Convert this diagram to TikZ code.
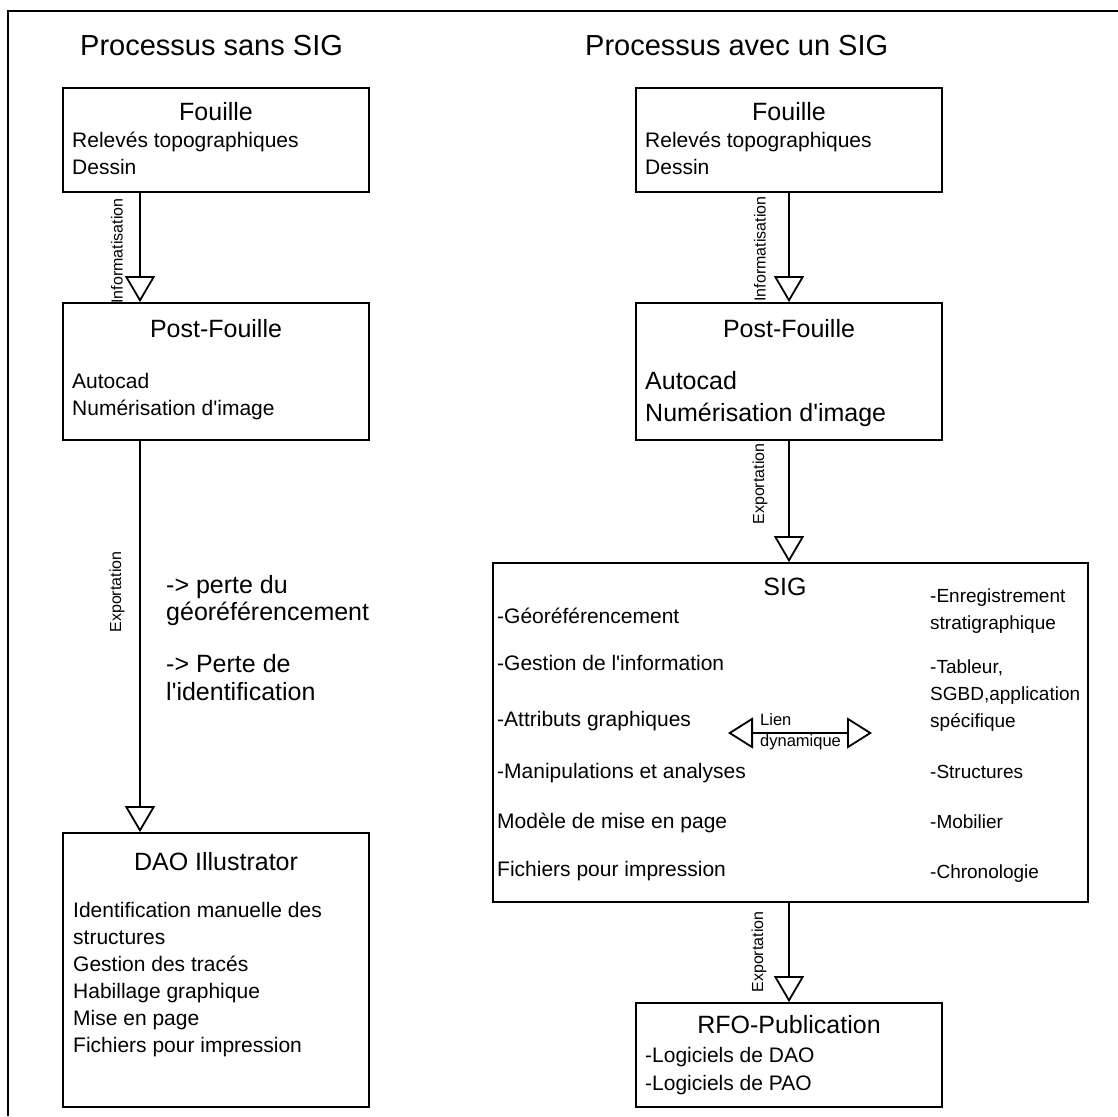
\documentclass[tikz,border=0pt]{standalone}
\usepackage{fontspec}
\setmainfont{Liberation Sans}
\usetikzlibrary{arrows.meta}
\begin{document}
\begin{tikzpicture}[x=1pt,y=-1pt,
  box/.style={draw, line width=1.8pt, rectangle, inner sep=0pt},
  ttl/.style={font=\fontsize{29}{34}\selectfont, anchor=base west, inner sep=0pt},
  head/.style={font=\fontsize{25}{30}\selectfont, anchor=base, inner sep=0pt},
  txt/.style={font=\fontsize{21}{27}\selectfont, anchor=base west, inner sep=0pt},
  rtxt/.style={font=\fontsize{19}{27}\selectfont, anchor=base west, inner sep=0pt},
  big/.style={font=\fontsize{25}{30}\selectfont, anchor=base west, inner sep=0pt},
  lbl/.style={font=\fontsize{16}{18}\selectfont, rotate=90, inner sep=0pt},
  small/.style={font=\fontsize{16.5}{18}\selectfont, anchor=base west, inner sep=0pt},
  arr/.style={line width=1.8pt, -{Triangle[open, width=30pt, length=26pt, line width=1.8pt]}},
  dbl/.style={line width=1.8pt, {Triangle[open, width=31pt, length=25pt, line width=1.8pt]}-{Triangle[open, width=31pt, length=25pt, line width=1.8pt]}},
]
\useasboundingbox (0,0) rectangle (1118,1116);

% outer frame (runs off the right and bottom edges)
\draw[line width=2pt] (1118,11) -- (8,11) -- (8,1116);

% column titles
\node[ttl] (titleL) at (80,56) {Processus sans SIG};
\node[ttl] (titleR) at (585,56) {Processus avec un SIG};

% ---------------- left column ----------------
\node[box, minimum width=306pt, minimum height=104pt] (fouilleL) at (216,140) {};
\node[head] (fouilleLh) at (216,120) {Fouille};
\node[txt] (fouilleL1) at (72,147) {Relevés topographiques};
\node[txt] (fouilleL2) at (72,174) {Dessin};

\node[box, minimum width=306pt, minimum height=137pt] (postL) at (216,371.5) {};
\node[head] (postLh) at (216,337) {Post-Fouille};
\node[txt] (postL1) at (72,388) {Autocad};
\node[txt] (postL2) at (72,415) {Numérisation d\textquotesingle image};

\node[box, minimum width=306pt, minimum height=274pt] (daoL) at (216,970) {};
\node[head] (daoLh) at (216,870) {DAO Illustrator};
\foreach \y/\t [count=\i] in {917/Identification manuelle des, 944/structures,
    971/Gestion des tracés, 998/Habillage graphique, 1025/Mise en page,
    1052/Fichiers pour impression}
  \node[txt] (daoL\i) at (73,\y) {\t};

\node[big] (perte1) at (166,593) {-> perte du};
\node[big] (perte2) at (166,620) {géoréférencement};
\node[big] (perte3) at (166,672) {-> Perte de};
\node[big] (perte4) at (166,700) {l\textquotesingle identification};

\draw[arr] ([xshift=-76pt]fouilleL.south) -- ([xshift=-76pt]postL.north);
\draw[arr] ([xshift=-76pt]postL.south) -- ([xshift=-76pt]daoL.north);
\node[lbl] (infoL) at (117,251) {Informatisation};
\node[lbl] (expL) at (117,592) {Exportation};

% ---------------- right column ----------------
\node[box, minimum width=306pt, minimum height=104pt] (fouilleR) at (789,140) {};
\node[head] (fouilleRh) at (789,120) {Fouille};
\node[txt] (fouilleR1) at (645,147) {Relevés topographiques};
\node[txt] (fouilleR2) at (645,174) {Dessin};

\node[box, minimum width=306pt, minimum height=137pt] (postR) at (789,371.5) {};
\node[head] (postRh) at (789,337) {Post-Fouille};
\node[big] (postR1) at (645,389) {Autocad};
\node[big] (postR2) at (645,421) {Numérisation d\textquotesingle image};

\node[box, minimum width=595pt, minimum height=339pt] (sig) at (790.5,732.5) {};
\node[head] (sigh) at (785,595) {SIG};
\foreach \y/\t [count=\i] in {623/-Géoréférencement, 670/-Gestion de l\textquotesingle information,
    726/-Attributs graphiques, 778/-Manipulations et analyses,
    828/Modèle de mise en page, 876/Fichiers pour impression}
  \node[txt] (sigL\i) at (497,\y) {\t};
\foreach \y/\t [count=\i] in {602/-Enregistrement, 629/stratigraphique,
    673/{-Tableur,}, 700/{SGBD,application}, 727/spécifique,
    778/-Structures, 828/-Mobilier, 878/-Chronologie}
  \node[rtxt] (sigR\i) at (930,\y) {\t};

\coordinate (dynL) at (728,733);
\coordinate (dynR) at (872,733);
\draw[dbl] (dynL) -- (dynR);
\node[small] (lien1) at (760,725) {Lien};
\node[small] (lien2) at (760,746) {dynamique};

\node[box, minimum width=306pt, minimum height=104pt] (rfo) at (789,1055) {};
\node[head] (rfoh) at (789,1033) {RFO-Publication};
\node[txt] (rfo1) at (645,1062) {-Logiciels de DAO};
\node[txt] (rfo2) at (645,1090) {-Logiciels de PAO};

\draw[arr] (fouilleR.south) -- (postR.north);
\draw[arr] (postR.south) -- (postR.south |- sig.north);
\draw[arr] (rfo.north |- sig.south) -- (rfo.north);
\node[lbl] (infoR) at (760,249) {Informatisation};
\node[lbl] (expR1) at (760,484) {Exportation};
\node[lbl] (expR2) at (759,952) {Exportation};
\end{tikzpicture}
\end{document}
